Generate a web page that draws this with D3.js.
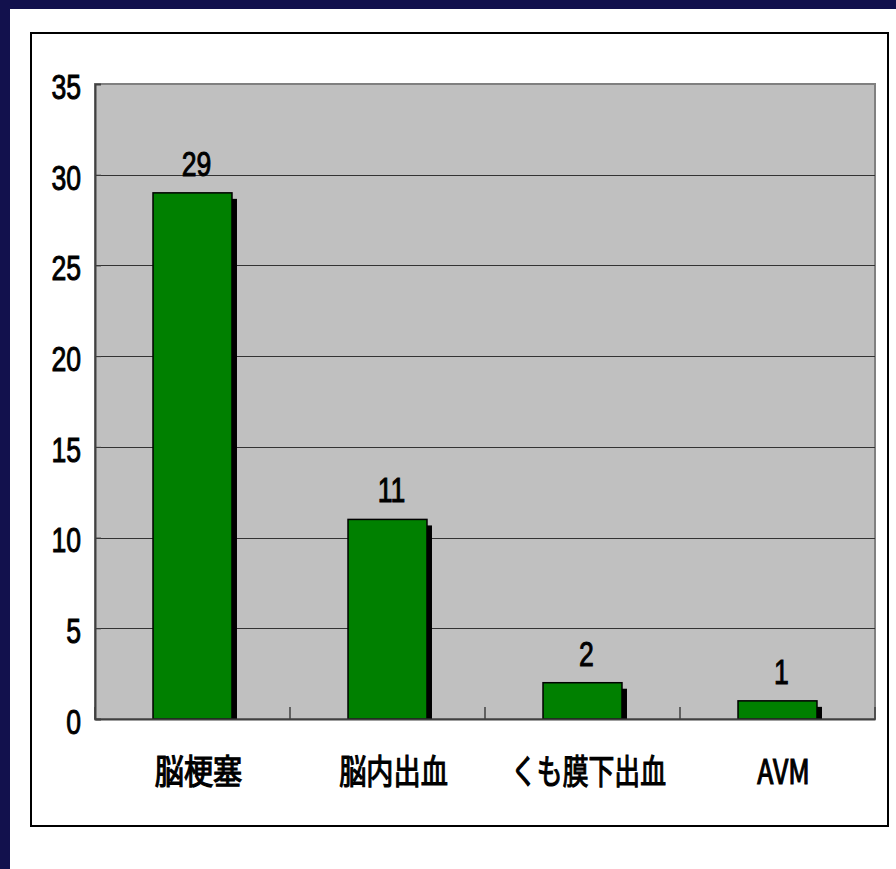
<!DOCTYPE html>
<html><head><meta charset="utf-8">
<script src="https://cdn.jsdelivr.net/npm/d3@7"></script>
<style>
html,body{margin:0;padding:0;background:#fff;}
svg{display:block;}
</style></head>
<body>
<svg id="chart" width="896" height="869"></svg>
<script>
const categories = ["脳梗塞", "脳内出血", "くも膜下出血", "AVM"];
const values = [29, 11, 2, 1];
const yTicks = [0, 5, 10, 15, 20, 25, 30, 35];

const svg = d3.select("#chart");
const W = 896, H = 869;
const font = "'Liberation Sans', Arial, 'Noto Sans CJK JP', sans-serif";
const squeeze = 0.76;

// navy slide frame
svg.append("rect").attr("x",0).attr("y",0).attr("width",W).attr("height",H).attr("fill","#12114d");
svg.append("rect").attr("x",10).attr("y",9).attr("width",W-10).attr("height",H-9).attr("fill","#fff");

// chart frame
svg.append("rect").attr("x",31).attr("y",33).attr("width",857).attr("height",793)
  .attr("fill","#fff").attr("stroke","#000").attr("stroke-width",2);

const plot = {left:95, top:84, right:875, bottom:719};
const x = d3.scaleBand().domain(categories).range([plot.left, plot.right])
  .paddingInner(0.595).paddingOuter(0.2975);
const y = d3.scaleLinear().domain([0,35]).range([plot.bottom, plot.top]);

// plot background
svg.append("rect").attr("x",plot.left).attr("y",plot.top)
  .attr("width",plot.right-plot.left).attr("height",plot.bottom-plot.top)
  .attr("fill","#c0c0c0").attr("stroke","#808080").attr("stroke-width",2);

// gridlines
svg.append("g").selectAll("line").data(yTicks.filter(v=>v>0 && v<35)).join("line")
  .attr("x1",plot.left).attr("x2",plot.right)
  .attr("y1",d=>Math.round(y(d))+0.5).attr("y2",d=>Math.round(y(d))+0.5)
  .attr("stroke","#333").attr("stroke-width",1);

// left axis
const yAxis = svg.append("g").attr("transform",`translate(${plot.left},0)`)
  .call(d3.axisLeft(y).tickValues(yTicks).tickSize(-6).tickFormat(""));
yAxis.select(".domain").attr("stroke","#404040").attr("stroke-width",2);
yAxis.selectAll(".tick line").attr("stroke","#404040");

// y labels
svg.append("g").selectAll("text").data(yTicks).join("text")
  .attr("transform",d=>`translate(81,${y(d)+3}) scale(${squeeze},1)`)
  .attr("text-anchor","end").attr("dominant-baseline","central")
  .attr("font-family",font).attr("font-size",35).attr("fill","#000")
  .attr("stroke","#000").attr("stroke-width",1)
  .text(d=>d);

// bars: shadow then bar
const bars = svg.append("g");
bars.selectAll("rect.sh").data(values).join("rect").attr("class","sh")
  .attr("x",(d,i)=>x(categories[i])+5).attr("y",d=>y(d)+6)
  .attr("width",x.bandwidth()).attr("height",d=>Math.max(0,plot.bottom-y(d)-6))
  .attr("fill","#000");
bars.selectAll("rect.bar").data(values).join("rect").attr("class","bar")
  .attr("x",(d,i)=>x(categories[i])).attr("y",d=>y(d))
  .attr("width",x.bandwidth()).attr("height",d=>plot.bottom-y(d))
  .attr("fill","#008000").attr("stroke","#000").attr("stroke-width",1.5);

// bottom axis
const xAxis = svg.append("g").attr("transform",`translate(0,${plot.bottom})`)
  .call(d3.axisBottom(x).tickSize(0).tickFormat(""));
xAxis.select(".domain").attr("stroke","#404040").attr("stroke-width",2);
const step = x.step();
svg.append("g").selectAll("line").data(d3.range(categories.length+1)).join("line")
  .attr("x1",i=>plot.left+i*step).attr("x2",i=>plot.left+i*step)
  .attr("y1",plot.bottom-12).attr("y2",plot.bottom)
  .attr("stroke","#404040").attr("stroke-width",1.5);

// value labels
svg.append("g").selectAll("text").data(values).join("text")
  .attr("transform",(d,i)=>`translate(${x(categories[i])+x.bandwidth()/2+4},${y(d)-17}) scale(${squeeze},1)`)
  .attr("text-anchor","middle")
  .attr("font-family",font).attr("font-size",35).attr("fill","#000")
  .attr("stroke","#000").attr("stroke-width",1)
  .text(d=>d);

// category labels
const catScale = [0.86, 0.8, 0.76, 0.78];
svg.append("g").selectAll("text").data(categories).join("text")
  .attr("transform",(d,i)=>`translate(${x(d)+x.bandwidth()/2+6},784) scale(${catScale[i]},1)`)
  .attr("text-anchor","middle")
  .attr("font-family","'Noto Sans CJK JP', 'Liberation Sans', sans-serif")
  .attr("font-size",34).attr("fill","#000")
  .attr("stroke","#000").attr("stroke-width",1.2)
  .text(d=>d);
</script>
</body></html>
